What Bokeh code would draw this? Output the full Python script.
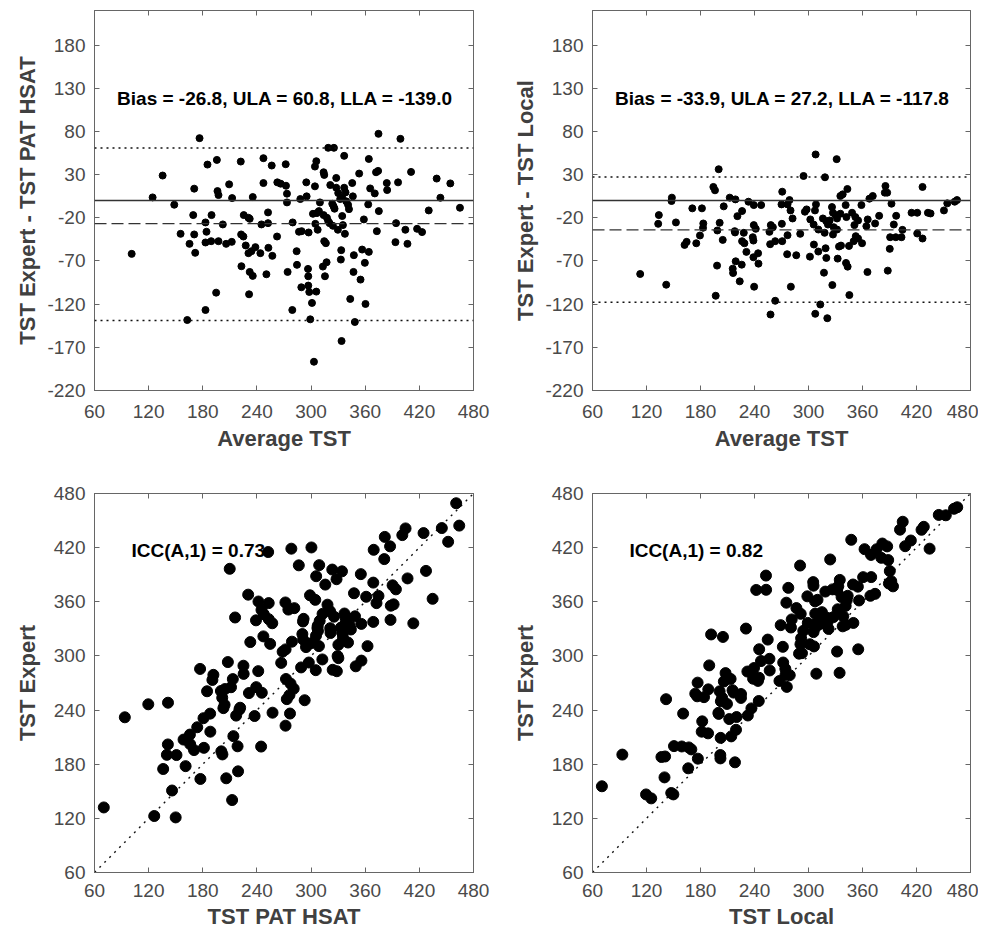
import numpy as np
from bokeh.plotting import figure
from bokeh.models import Span, Label, LinearAxis, Range1d, FixedTicker
from bokeh.layouts import column, row
from bokeh.embed import file_html
from bokeh.resources import INLINE

# ---------------- data ----------------
# Bland-Altman: average TST and difference for PAT HSAT vs Expert
pat_avg = [176.4, 374.7, 399.0, 319.0, 325.3, 135.5, 185.2, 195.6, 222.1, 247.2, 256.4, 271.9, 305.8, 304.3,
           313.9, 314.6, 336.7, 327.9, 364.0, 374.3, 372.0, 353.3, 410.8, 439.2,
           170.5, 196.3, 197.4, 209.2, 212.5, 235.4, 247.2, 262.6, 266.3, 272.2, 273.3, 273.3, 294.7, 304.3,
           288.1, 295.1, 321.3, 327.9, 330.1, 336.7, 338.2, 345.6, 346.3, 332.3, 334.5, 323.5, 325.0,
           339.0, 341.0, 342.0, 326.0,
           309.8, 308.7, 306.5, 302.1, 313.9, 317.6, 319.0, 320.5, 324.2, 329.7, 334.5, 335.3, 337.5, 304.7,
           307.3, 297.3, 289.5, 286.6, 279.6, 262.3, 252.3, 252.3, 245.0, 252.7, 257.1, 243.8, 238.3, 233.9,
           230.6, 227.6, 225.4, 230.6, 232.0, 222.5, 225.0, 212.1, 205.9, 197.4, 189.3, 183.0, 184.1, 183.0,
           189.7, 202.2, 169.4, 170.5, 155.4, 165.3, 171.6, 148.4, 124.4, 101.2, 222.8, 232.0, 235.4, 250.5,
           274.0, 284.4, 284.0, 296.6, 296.9, 289.2, 296.9, 298.0, 305.8, 301.0, 279.2, 299.1, 231.3, 194.8,
           183.0, 162.8, 303.2, 333.8, 343.4, 348.5, 360.3, 354.8, 359.6, 347.0, 347.4, 356.6, 364.0, 333.4,
           333.0, 315.4, 313.1, 317.2, 314.6, 316.4, 358.5, 363.3, 375.1, 372.9, 394.2, 393.5, 406.8, 404.5,
           417.5, 423.0, 430.4, 443.3, 454.3, 465.0, 383.9, 384.3, 396.4, 365.5, 370.6]
pat_diff = [72.2, 77.2, 71.4, 61.0, 61.0, 28.9, 41.6, 47.0, 45.1, 49.0, 40.5, 42.0, 45.5, 39.3,
            32.7, 29.6, 51.7, 26.1, 48.1, 34.3, 32.7, 31.2, 33.1, 25.4,
            13.7, 10.9, 6.3, 18.7, 2.8, 4.0, 20.2, 21.0, 19.5, 17.1, 7.9, -2.2, 21.0, 16.4,
            1.7, 4.8, 17.9, 14.8, 8.6, 14.8, 9.4, 20.2, 4.8, 1.7, 3.2, -3.8, -6.8,
            -1.0, -5.0, -10.0, -9.5,
            -2.2, -12.3, -14.6, -15.4, -16.9, -20.0, -23.9, -26.2, -29.3, -33.9, -18.0, -28.5, -38.6, -27.0,
            -33.9, -37.0, -35.5, -36.2, -25.4, -41.7, -13.8, -26.2, -27.7, -54.8, -64.1, -61.0, -54.0, -58.7,
            -61.0, -52.1, -16.9, -20.0, -21.2, -39.3, -41.7, -47.9, -50.2, -47.1, -47.1, -48.6, -36.2, -25.4,
            -16.9, -27.7, -16.9, -39.3, -38.6, -50.2, -60.6, -4.9, 3.6, -61.8, -76.1, -82.7, -87.3, -85.4,
            -82.7, -74.5, -58.7, -79.2, -87.7, -100.5, -98.5, -105.9, -105.5, -118.6, -126.8, -137.6, -108.6, -106.7,
            -126.8, -138.4, -186.7, -162.7, -114.0, -140.7, -119.8, -91.6, -72.2, -82.7, -63.3, -56.8, -59.5, -57.5,
            -68.4, -87.7, -76.5, -71.5, -47.1, -49.4, -21.9, -4.5, -12.3, -35.5, -26.2, -48.2, -50.2, -33.9,
            -32.8, -36.6, -11.5, 3.2, 19.8, -8.4, 20.2, 12.1, 21.0, 14.0, 8.2]

# Bland-Altman: average TST and difference for Local vs Expert
loc_avg = [200.2, 307.9, 331.3, 294.5, 318.3,
           194.3, 196.1, 148.2, 147.8, 212.5, 218.8, 270.8, 278.9, 276.7, 270.0, 280.0, 282.3, 296.0, 297.9,
           308.3, 307.2, 302.0, 305.7, 311.0, 316.0, 317.9, 319.8, 323.5, 321.6, 326.1, 327.2, 329.8, 331.7,
           328.0, 331.7, 327.2, 335.4, 338.0, 343.2, 341.3, 335.4, 342.1, 348.4, 352.1, 355.1, 351.0, 358.8,
           367.7, 371.4, 365.8, 364.3, 374.0, 378.5, 385.5, 384.8, 387.4, 392.2, 397.4, 394.8, 390.7, 397.0,
           403.3, 404.4, 390.3, 388.1, 414.5, 420.8, 420.8, 426.7, 426.7, 432.7, 435.6, 450.5, 454.2, 462.4,
           465.0, 133.7, 133.0, 152.7, 113.0, 141.9, 162.3, 164.6, 175.3, 179.4, 182.8, 183.1, 170.9, 181.6,
           198.7, 201.3, 204.7, 205.8, 198.4, 196.9, 215.8, 216.2, 219.1, 223.6, 225.8, 221.0, 226.2, 218.0,
           218.4, 228.1, 226.2, 228.8, 231.0, 233.3, 239.2, 247.4, 238.1, 238.8, 239.2, 241.4, 238.8, 244.0,
           244.4, 239.6, 258.1, 260.4, 256.6, 257.4, 263.0, 270.4, 270.8, 276.7, 276.3, 286.4, 290.8, 280.4,
           263.0, 257.8, 301.6, 306.0, 310.9, 319.0, 319.8, 317.2, 326.5, 313.1, 307.5, 320.9, 332.4, 341.7,
           343.5, 345.4, 333.9, 336.1, 345.0, 350.2, 352.5, 355.1, 359.5, 365.5]
loc_diff = [36.2, 53.3, 47.9, 28.4, 26.9,
            15.7, 11.8, 3.3, -0.6, 3.3, 1.3, 10.2, 0.5, -4.5, -4.5, -11.5, -20.8, -13.0, -10.3,
            -4.5, -11.5, -21.9, -27.8, -33.6, -20.8, -37.4, -23.9, -23.1, -27.8, -7.6, -14.2, -16.9, -20.8,
            -30.9, -33.6, -39.4, 5.2, 7.1, 13.3, -5.3, -15.3, -19.2, -14.2, -19.2, -23.1, -28.5, -5.3,
            2.1, 5.2, -21.9, -29.7, -26.6, -17.7, 16.8, 9.1, 9.1, -3.7, -17.7, -27.8, -42.5, -42.5,
            -42.5, -34.0, -56.0, -81.2, -14.2, -14.2, -38.2, -44.0, 15.7, -14.2, -15.0, -11.5, -3.3, -1.4,
            0.5, -16.9, -27.0, -25.4, -85.1, -97.5, -51.4, -47.9, -49.5, -40.5, -31.6, -26.6, -9.1, -9.1,
            -34.7, -25.8, -45.6, -6.8, -75.4, -110.3, -78.9, -84.0, -70.4, -93.6, -74.3, -18.1, -12.2, -35.5,
            -37.0, -37.4, -47.1, -49.5, -59.5, -1.4, -5.3, -5.3, -42.5, -46.4, -28.5, -32.8, -65.7, -61.1,
            -73.1, -99.8, -28.5, -30.9, -36.3, -50.6, -47.1, -27.0, -47.1, -40.2, -62.2, -63.4, -38.6, -99.8,
            -116.1, -132.0, -65.0, -51.0, -59.1, -55.3, -66.5, -83.6, -97.9, -120.4, -131.2, -136.3, -67.3, -72.3,
            -76.6, -109.5, -53.3, -52.2, -52.6, -47.1, -41.3, -44.0, -49.5, -82.8]

pat_bias, pat_ula, pat_lla = -26.8, 60.8, -139.0
loc_bias, loc_ula, loc_lla = -33.9, 27.2, -117.8
icc_pat = 0.73
icc_loc = 0.82

tst_ticks = [60, 120, 180, 240, 300, 360, 420, 480]
diff_ticks = [-220, -170, -120, -70, -20, 30, 80, 130, 180]

# paired values recovered from average and difference
pat_avg_a, pat_diff_a = np.array(pat_avg), np.array(pat_diff)
loc_avg_a, loc_diff_a = np.array(loc_avg), np.array(loc_diff)
tst_pat = pat_avg_a + pat_diff_a / 2
tst_expert_p = pat_avg_a - pat_diff_a / 2
tst_local = loc_avg_a + loc_diff_a / 2
tst_expert_l = loc_avg_a - loc_diff_a / 2

# ---------------- styling ----------------
FONT = "Liberation Sans"
TICKC = "#4a4a4a"
FRAME = "#666666"
LABC = "#404040"


def style_axis(ax, ticks, show_labels=True):
    ax.ticker = FixedTicker(ticks=ticks)
    ax.major_tick_in = 5
    ax.major_tick_out = 0
    ax.minor_tick_line_color = None
    ax.axis_line_color = FRAME
    ax.major_tick_line_color = FRAME
    ax.major_label_text_font = FONT
    ax.axis_label_text_font = FONT
    ax.axis_label_text_font_style = "bold"
    ax.axis_label_text_font_size = "22px"
    ax.axis_label_text_color = LABC
    if show_labels:
        ax.major_label_text_font_size = "19px"
        ax.major_label_text_color = TICKC
        ax.major_label_overrides = {t: str(t) for t in ticks}
    else:
        ax.major_label_text_font_size = "1px"
        ax.major_label_text_color = None
        ax.major_label_standoff = 0


def make_fig(width, height, left, right, top, bottom, yr, yticks, xlab, ylab,
             xstand, xlabstand, ylabstand):
    p = figure(width=width, height=height, x_range=Range1d(60, 480), y_range=Range1d(*yr),
               output_backend="svg", toolbar_location=None,
               min_border_left=left, min_border_right=right,
               min_border_top=top, min_border_bottom=bottom)
    p.grid.visible = False
    p.outline_line_color = FRAME
    p.background_fill_color = "white"
    p.border_fill_color = "white"
    style_axis(p.xaxis[0], tst_ticks)
    style_axis(p.yaxis[0], yticks)
    p.xaxis[0].axis_label = xlab
    p.yaxis[0].axis_label = ylab
    p.xaxis[0].major_label_standoff = xstand
    p.xaxis[0].axis_label_standoff = xlabstand
    p.yaxis[0].major_label_standoff = 9
    p.yaxis[0].axis_label_standoff = ylabstand
    ra = LinearAxis()
    style_axis(ra, yticks, show_labels=False)
    p.add_layout(ra, "right")
    ta = LinearAxis()
    style_axis(ta, tst_ticks, show_labels=False)
    p.add_layout(ta, "above")
    return p


def ba_panel(width, left, right, avg, diff, bias, ula, lla, ylab):
    p = make_fig(width, 483, left, right, 10, 93, (-220, 220), diff_ticks,
                 "Average TST", ylab, 14, 5, 4)
    p.add_layout(Span(location=0, dimension="width", line_color="#333333", line_width=1.3))
    p.add_layout(Span(location=bias, dimension="width", line_color="#333333", line_width=1.3,
                      line_dash="12 5"))
    for v in (ula, lla):
        p.add_layout(Span(location=v, dimension="width", line_color="#111111", line_width=1.4,
                          line_dash="2 4"))
    p.scatter(avg, diff, size=7, color="black")
    p.add_layout(Label(x=85, y=118, text="Bias = %.1f, ULA = %.1f, LLA = %.1f" % (bias, ula, lla),
                       text_font=FONT, text_font_style="bold", text_font_size="19px",
                       text_color="black", text_baseline="middle", text_align="left"))
    return p


def sc_panel(width, left, right, xv, yv, icc, xlab):
    p = make_fig(width, 451, left, right, 10, 62, (60, 480), tst_ticks,
                 xlab, "TST Expert", 11, 4, 11)
    p.line([60, 480], [60, 480], line_color="#111111", line_width=1.4, line_dash="2 5")
    p.scatter(xv, yv, size=11, color="black")
    p.add_layout(Label(x=101, y=417, text="ICC(A,1) = %.2f" % icc,
                       text_font=FONT, text_font_style="bold", text_font_size="19px",
                       text_color="black", text_baseline="middle", text_align="left"))
    return p


f1 = ba_panel(506, 94, 33, pat_avg, pat_diff, pat_bias, pat_ula, pat_lla, "TST Expert - TST PAT HSAT")
f2 = ba_panel(472, 86, 8, loc_avg, loc_diff, loc_bias, loc_ula, loc_lla, "TST Expert - TST Local")
f3 = sc_panel(506, 94, 33, tst_pat, tst_expert_p, icc_pat, "TST PAT HSAT")
f4 = sc_panel(472, 86, 8, tst_local, tst_expert_l, icc_loc, "TST Local")

layout = column(row(f1, f2), row(f3, f4))
open("out.html", "w").write(file_html(layout, INLINE))
